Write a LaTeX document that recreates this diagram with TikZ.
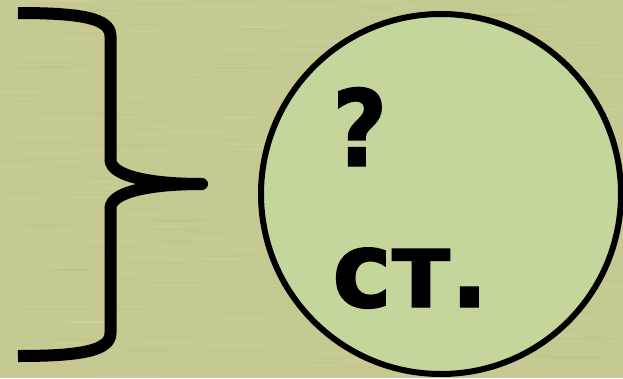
\documentclass[tikz,border=0pt]{standalone}
\usepackage{fontspec}
\setmainfont[BoldFeatures={FakeBold=1.2}]{DejaVu Sans}
\definecolor{bgc}{RGB}{198,201,146}
\definecolor{circc}{RGB}{196,214,156}
\definecolor{streakl}{RGB}{212,214,166}
\definecolor{streakd}{RGB}{186,190,132}
\tikzset{brace/.style={line width=12pt,line cap=butt,line join=round,black},
 tipcap/.style={line width=12pt,line cap=round,black},
 streak/.style={line width=1.5pt,opacity=.25},
 lab/.style={anchor=base west,inner sep=0pt,text=black,font=\bfseries\fontsize{106pt}{106pt}\selectfont}}
\pgfmathsetseed{4242}
\begin{document}
\begin{tikzpicture}[x=1pt,y=-1pt]
\useasboundingbox (0,0) rectangle (623,378);
\fill[bgc] (0,0) rectangle (623,378);
\foreach \i in {1,...,260}{
  \pgfmathsetmacro{\sx}{random(0,600)}
  \pgfmathsetmacro{\sy}{random(0,378)}
  \pgfmathsetmacro{\sl}{random(15,70)}
  \pgfmathparse{mod(\i,2)==0 ? "streakl" : "streakd"}
  \edef\sc{\pgfmathresult}
  \draw[streak,color=\sc] (\sx,\sy) -- ++(\sl,0);
}
\coordinate (tipa) at (202,184);
\coordinate (tipb) at (185,184);
\draw[brace] (18,13) .. controls (80,13) and (110.5,18) .. (110.5,36) -- (110.5,160) .. controls (111,176) and (150,184) .. (tipa);
\draw[brace] (18,356) .. controls (80,356) and (110.5,351) .. (110.5,333) -- (110.5,208) .. controls (111,192) and (150,184) .. (tipa);
\draw[tipcap] (tipb) -- (tipa);
\node[circle,draw=black,line width=6pt,fill=circc,minimum size=360pt,inner sep=0pt,outer sep=0pt] (c) at (441,194) {};
\node[lab,xscale=.9] (q) at (332,166) {?};
\node[lab,xscale=.95] (s) at (332,307) {ст.};
\end{tikzpicture}
\end{document}
